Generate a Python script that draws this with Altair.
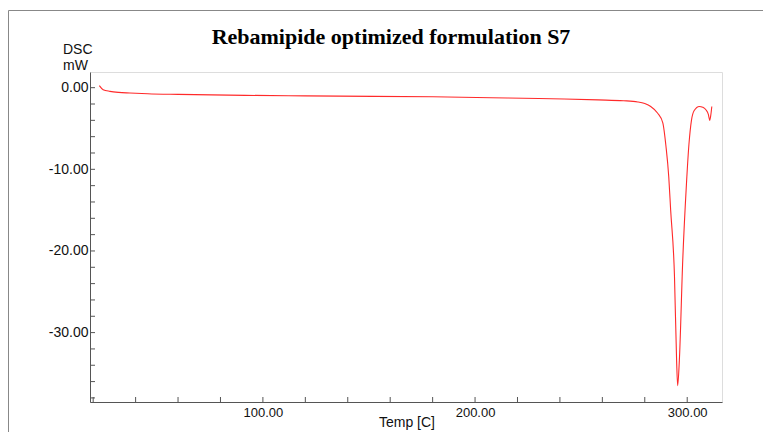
import altair as alt
import pandas as pd

# DSC curve
temp = [22.9, 24.7, 27.9, 32.0, 37.3, 45.7, 60.0, 91.7, 120.0, 152.0, 180.0, 207.7,
        230.0, 242.0, 258.0, 270.0, 276.7, 280.0, 282.8, 286.0, 288.5, 290.0, 291.3,
        292.2, 294.0, 295.0, 295.5, 296.3, 297.9, 299.6, 300.8, 302.0, 303.3, 305.7,
        307.3, 308.8, 310.0, 310.6, 311.1, 311.6]
dsc = [0.25, -0.25, -0.45, -0.58, -0.65, -0.74, -0.82, -0.94, -1.00, -1.06, -1.12, -1.23,
       -1.32, -1.39, -1.50, -1.60, -1.75, -1.95, -2.30, -3.10, -4.30, -7.20, -10.90,
       -15.00, -23.10, -33.40, -36.50, -33.40, -21.10, -12.00, -7.00, -4.00, -2.80, -2.30,
       -2.40, -2.70, -3.30, -4.00, -3.40, -2.30]

x_major = [100, 200, 300]
x_minor = [20, 40, 60, 80, 100, 120, 140, 160, 180, 200, 220, 240, 260, 280, 300]
y_major = [0, -10, -20, -30]
y_minor = [0, -2, -4, -6, -8, -10, -12, -14, -16, -18, -20, -22, -24, -26, -28, -30,
           -32, -34, -36, -38]

title_text = "Rebamipide optimized formulation S7"
y_title = ["DSC", "mW"]
x_title = "Temp [C]"

W, H = 632, 330
xs = alt.Scale(domain=[18.5, 316.4], nice=False, zero=False)
ys = alt.Scale(domain=[-38.5, 1.92], nice=False, zero=False)

df = pd.DataFrame({"T": temp, "V": dsc})
FONT = "Liberation Sans"
LBL = "(datum.value < 0 ? '-' : '') + format(abs(datum.value), '.2f')"

line = alt.Chart(df).mark_line(color="#ff2a2a", strokeWidth=1.1, interpolate="monotone", clip=True).encode(
    x=alt.X("T:Q", scale=xs, axis=alt.Axis(
        values=x_major, title=None, ticks=False, labelExpr=LBL,
        labelFont=FONT, labelFontSize=13, labelColor="#111", labelPadding=4,
        domainColor="#555", grid=False)),
    y=alt.Y("V:Q", scale=ys, axis=alt.Axis(
        values=y_major, title=None, ticks=False, labelExpr=LBL,
        labelFont=FONT, labelFontSize=14, labelColor="#111", labelPadding=2,
        domainColor="#555", grid=False)),
)

xt = alt.Chart(pd.DataFrame({"T": x_minor})).mark_rule(color="#555", strokeWidth=1).encode(
    x=alt.X("T:Q", scale=xs), y=alt.value(H), y2=alt.value(H - 5))
yt = alt.Chart(pd.DataFrame({"V": y_minor})).mark_rule(color="#555", strokeWidth=1).encode(
    y=alt.Y("V:Q", scale=ys), x=alt.value(0), x2=alt.value(5))

ttl = alt.Chart(pd.DataFrame({"t": [title_text]})).mark_text(
    font="Liberation Serif", fontSize=22, fontWeight="bold", color="#000", baseline="alphabetic", align="center"
).encode(text="t:N", x=alt.value(301), y=alt.value(-28.5))

ytl = alt.Chart(pd.DataFrame({"t": y_title, "yy": [-18, -2]})).mark_text(
    font=FONT, fontSize=14, color="#111", baseline="alphabetic", align="left"
).encode(text="t:N", x=alt.value(-27), y=alt.Y("yy:Q", scale=None))

xtl = alt.Chart(pd.DataFrame({"t": [x_title]})).mark_text(
    font=FONT, fontSize=14, color="#111", baseline="alphabetic", align="center"
).encode(text="t:N", x=alt.value(317), y=alt.value(355))

frame_top = alt.Chart(pd.DataFrame({"a": [0]})).mark_rule(color="#888", strokeWidth=1).encode(
    x=alt.value(-81.5), x2=alt.value(690), y=alt.value(-61.5))
frame_left = alt.Chart(pd.DataFrame({"a": [0]})).mark_rule(color="#888", strokeWidth=1).encode(
    x=alt.value(-81.5), y=alt.value(-61.5), y2=alt.value(380))

chart = alt.layer(line, xt, yt, ttl, ytl, xtl, frame_top, frame_left).properties(
    width=W, height=H,
    autosize=alt.AutoSizeParams(type="none"),
    padding={"left": 82, "top": 64, "right": 41, "bottom": 30},
).configure_view(stroke="#555", strokeWidth=1).configure(background="white")

chart.save("out.html", embed_options={"renderer": "svg", "actions": False})
